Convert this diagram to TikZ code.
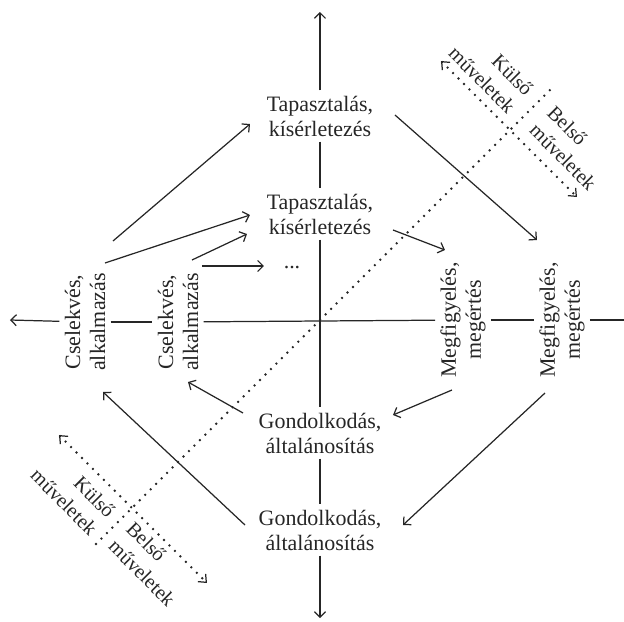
\documentclass[tikz,border=0pt]{standalone}
\usepackage{fontspec}
\setmainfont{Liberation Serif}
\usepackage{tikz}
\usetikzlibrary{arrows.meta}

\begin{document}
\begin{tikzpicture}[x=0.2mm,y=0.2mm,color=black!85,
    txt/.style={align=center,inner sep=1mm,font=\fontsize{12.5}{14.2}\selectfont},
    small/.style={inner sep=0pt,rotate=-45,font=\fontsize{11.5}{14.2}\selectfont},
    ax/.style={line width=0.7pt},
    arr/.style={line width=0.7pt,-{Straight Barb[length=1.1mm,width=2.2mm]}},
    dots/.style={line width=1.5pt,line cap=round,dash pattern=on 0pt off 4.4pt},
    dotarr/.style={dots,{Straight Barb[length=1.3mm,width=2.2mm,line width=0.7pt]}-{Straight Barb[length=1.3mm,width=2.2mm,line width=0.7pt]}}]
    \useasboundingbox (-320,-301) rectangle (304,320);

    % the four stages, outer and inner round
    \node[txt] (TapO) at (0,204) {Tapasztalás,\\kísérletezés};
    \node[txt] (TapI) at (0,106) {Tapasztalás,\\kísérletezés};
    \node[txt,rotate=90] (CseO) at (-235,-2) {Cselekvés,\\alkalmazás};
    \node[txt,rotate=90] (CseI) at (-142,-2) {Cselekvés,\\alkalmazás};
    \node[txt,rotate=90] (MegI) at (143,0) {Megfigyelés,\\megértés};
    \node[txt,rotate=90] (MegO) at (242,0) {Megfigyelés,\\megértés};
    \node[txt] (GonI) at (0,-113) {Gondolkodás,\\általánosítás};
    \node[txt] (GonO) at (0,-210) {Gondolkodás,\\általánosítás};
    \node[txt] (Dots) at (-28,52) {...};

    % axes
    \coordinate (N) at (0,308);
    \coordinate (S) at (0,-298);
    \coordinate (W) at (-310,0);
    \coordinate (E) at (304,0);
    \draw[arr] (TapO) -- (N);
    \draw[ax] (TapO) -- (TapI);
    \draw[ax] (TapI) -- (GonI);
    \draw[ax] (GonI) -- (GonO);
    \draw[arr] (GonO) -- (S);
    \draw[arr] (CseO) -- (W);
    \draw[ax] (CseO) -- (CseI);
    \draw[ax] (CseI) -- (MegI);
    \draw[ax] (MegI) -- (MegO);
    \draw[ax] (MegO) -- (E);

    % the cycle
    \draw[arr] ([shift={(28,81)}]CseO.center) -- ([shift={(-70,-8)}]TapO.center);
    \draw[arr] ([shift={(20,59)}]CseO.center) -- ([shift={(-70,-1)}]TapI.center);
    \draw[arr] ([shift={(14,62)}]CseI.center) -- ([shift={(-73,-20)}]TapI.center);
    \draw[arr] ([shift={(24,56)}]CseI.center) -- ([shift={(-28,2)}]Dots.center);
    \draw[arr] ([shift={(75,1)}]TapO.center) -- ([shift={(-25,80)}]MegO.center);
    \draw[arr] ([shift={(73,-16)}]TapI.center) -- ([shift={(-18,70)}]MegI.center);
    \draw[arr] ([shift={(-11,-70)}]MegI.center) -- ([shift={(73,18)}]GonI.center);
    \draw[arr] ([shift={(-17,-73)}]MegO.center) -- ([shift={(83,5)}]GonO.center);
    \draw[arr] ([shift={(-77,20)}]GonI.center) -- ([shift={(10,-60)}]CseI.center);
    \draw[arr] ([shift={(-75,5)}]GonO.center) -- ([shift={(18,-70)}]CseO.center);

    % inner / outer border
    \coordinate (dA) at (-224,-224);
    \coordinate (dB) at (232,232);
    \draw[dots] (dA) -- (dB);
    \coordinate (trA) at (121,259);
    \coordinate (trB) at (257,123);
    \coordinate (blA) at (-261,-115);
    \coordinate (blB) at (-113,-263);
    \draw[dotarr] (trA) -- (trB);
    \draw[dotarr] (blA) -- (blB);
    \node[small,align=right] (KulTR) at (171,249) {Külső\\műveletek};
    \node[small,align=left] (BelTR) at (252,172) {Belső\\műveletek};
    \node[small,align=right] (KulBL) at (-247,-173) {Külső\\műveletek};
    \node[small,align=left] (BelBL) at (-169,-244) {Belső\\műveletek};
\end{tikzpicture}
\end{document}
